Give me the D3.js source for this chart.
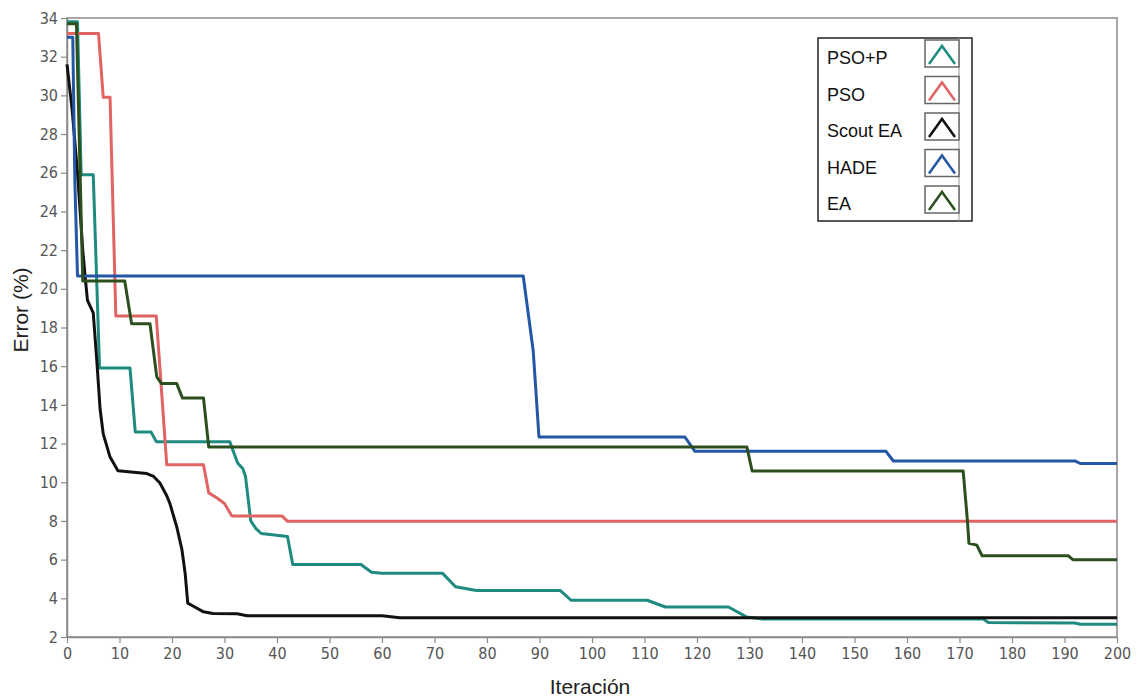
<!DOCTYPE html>
<html>
<head>
<meta charset="utf-8">
<script src="https://cdn.jsdelivr.net/npm/d3@7"></script>
<style>
  body { margin: 0; background: #fff; }
  svg { display: block; font-family: "Liberation Sans", Arial, sans-serif; }
</style>
</head>
<body>
<div id="chart"></div>
<script>
// ---- data: [iteration, error %] ----
var psoP = [[0,33.8],[2,33.8],[2.7,25.9],[5,25.9],[6.2,15.9],[12,15.9],[13,12.6],[16,12.6],[17,12.1],[31,12.1],[32.5,11.0],[33.5,10.7],[34,10.3],[35,8.0],[36,7.6],[37,7.35],[42,7.2],[43,5.75],[56,5.75],[58,5.35],[60,5.3],[71.5,5.3],[74,4.6],[78,4.4],[94,4.4],[96,3.9],[110.5,3.9],[114,3.55],[126,3.55],[129.5,3.03],[132.5,2.93],[174.5,2.93],[175.5,2.75],[192,2.72],[193,2.66],[200,2.66]];
var pso = [[0,33.2],[6,33.2],[6.9,29.9],[8.2,29.9],[9.3,18.6],[17,18.6],[19,10.9],[26,10.9],[27,9.45],[28.5,9.2],[30,8.9],[31.4,8.25],[41,8.25],[42,7.98],[200,7.98]];
var scoutEA = [[0,31.6],[1,29.2],[2,26],[3,22],[3.5,20.5],[3.9,19.4],[5,18.75],[5.7,16.2],[6.3,13.8],[6.9,12.5],[8.2,11.3],[9.7,10.6],[15.2,10.45],[16.5,10.3],[17.7,9.96],[19,9.3],[19.6,8.9],[20.9,7.7],[21.9,6.5],[22.5,5.3],[23,3.75],[24,3.6],[26,3.3],[27.8,3.22],[32.4,3.2],[34.3,3.1],[60,3.1],[63.4,3.0],[200,3.0]];
var hade = [[0,33.0],[1.1,33.0],[1.5,25.5],[2,20.66],[86.9,20.66],[88.8,16.8],[89.9,12.34],[117.7,12.34],[119.6,11.6],[156,11.6],[157.4,11.1],[192,11.1],[193,10.97],[200,10.97]];
var ea = [[0,33.7],[1.8,33.7],[3,20.4],[11,20.4],[12.3,18.2],[15.8,18.2],[17.1,15.45],[18,15.1],[20.9,15.1],[22,14.35],[26,14.35],[27,11.82],[129.5,11.82],[130.5,10.58],[170.7,10.58],[171.5,8.04],[171.8,6.85],[173.3,6.75],[174.3,6.2],[190.7,6.2],[191.6,6.0],[200,6.0]];

var seriesNames = ["PSO+P", "PSO", "Scout EA", "HADE", "EA"];
var seriesData = [psoP, pso, scoutEA, hade, ea];
var seriesColors = ["#1f8a80", "#e06464", "#111111", "#2456a6", "#2c4f1e"];

var xTicks = d3.range(0, 201, 10);
var yTicks = d3.range(2, 35, 2);

// ---- layout ----
var width = 1137, height = 699;
var margin = { top: 18, right: 20, bottom: 62, left: 67 };

var svg = d3.select("#chart").append("svg")
    .attr("width", width)
    .attr("height", height);

var x = d3.scaleLinear().domain([0, 200]).range([margin.left, width - margin.right]);
var y = d3.scaleLinear().domain([2, 34]).range([height - margin.bottom, margin.top]);

// plot frame
svg.append("rect")
    .attr("x", x(0)).attr("y", y(34))
    .attr("width", x(200) - x(0)).attr("height", y(2) - y(34))
    .attr("fill", "#fff").attr("stroke", "#8a8a8a").attr("stroke-width", 1.5);

var xAxis = svg.append("g")
    .attr("transform", "translate(0," + y(2) + ")")
    .call(d3.axisBottom(x).tickValues(xTicks).tickSize(6).tickSizeOuter(0).tickPadding(5));
var yAxis = svg.append("g")
    .attr("transform", "translate(" + x(0) + ",0)")
    .call(d3.axisLeft(y).tickValues(yTicks).tickSize(6).tickSizeOuter(0).tickPadding(3));

[xAxis, yAxis].forEach(function (g) {
    g.select(".domain").attr("stroke", "#8a8a8a").attr("stroke-width", 1.5);
    g.selectAll(".tick line").attr("stroke", "#8a8a8a").attr("stroke-width", 1.2);
    g.selectAll(".tick text").attr("fill", "#555").style("font-size", "16px")
        .style("font-family", "'DejaVu Sans Condensed', 'Liberation Sans', sans-serif");
});

// axis titles
svg.append("text")
    .attr("x", 590).attr("y", 694)
    .attr("text-anchor", "middle")
    .style("font-size", "21px").attr("fill", "#222")
    .text("Iteración");
svg.append("text")
    .attr("transform", "translate(28,310) rotate(-90)")
    .attr("text-anchor", "middle")
    .style("font-size", "21px").attr("fill", "#222")
    .text("Error (%)");

// lines
var line = d3.line()
    .x(function (d) { return x(d[0]); })
    .y(function (d) { return y(d[1]); });

svg.selectAll("path.series")
    .data(seriesData)
    .enter()
    .append("path")
    .attr("class", "series")
    .attr("d", line)
    .attr("fill", "none")
    .attr("stroke", function (d, i) { return seriesColors[i]; })
    .attr("stroke-width", 3)
    .attr("stroke-linejoin", "round");

// legend
var lg = svg.append("g").attr("transform", "translate(818,38)");
lg.append("rect")
    .attr("width", 154).attr("height", 183)
    .attr("fill", "#fff").attr("stroke", "#222").attr("stroke-width", 1.5);
lg.append("line")
    .attr("x1", 141).attr("x2", 141).attr("y1", 0).attr("y2", 183)
    .attr("stroke", "#999").attr("stroke-width", 1);

var rows = lg.selectAll("g.row")
    .data(seriesNames)
    .enter()
    .append("g")
    .attr("class", "row")
    .attr("transform", function (d, i) { return "translate(0," + (2 + i * 36.5) + ")"; });

rows.append("text")
    .attr("x", 9).attr("y", 24)
    .style("font-size", "18px").attr("fill", "#111")
    .text(function (d) { return d; });

rows.append("rect")
    .attr("x", 107).attr("y", 0)
    .attr("width", 34).attr("height", 27)
    .attr("fill", "#fff").attr("stroke", "#666").attr("stroke-width", 1.5);

rows.append("path")
    .attr("d", "M111,24 L124,6 L137,24")
    .attr("fill", "none")
    .attr("stroke", function (d, i) { return seriesColors[i]; })
    .attr("stroke-width", 2.5);
</script>
</body>
</html>
